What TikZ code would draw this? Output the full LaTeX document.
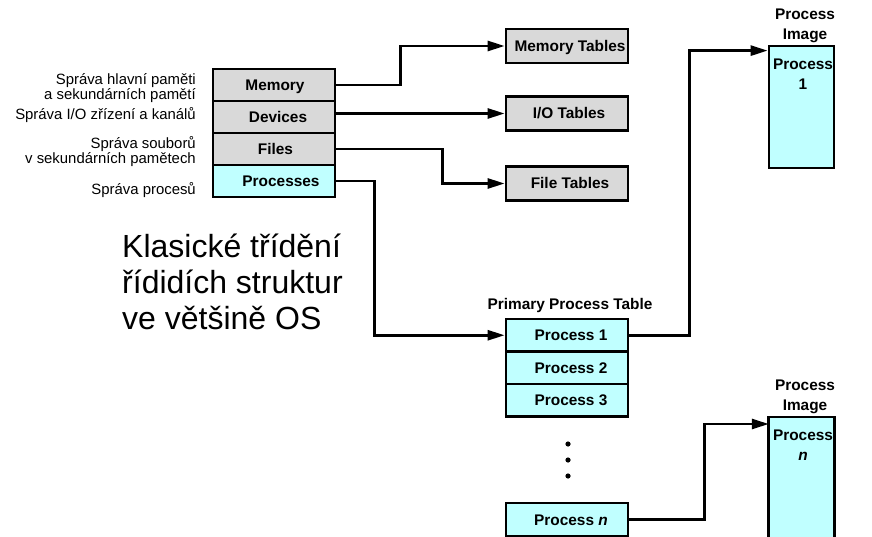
\documentclass[tikz,border=0pt]{standalone}
\usepackage{fontspec}
\setmainfont{Liberation Sans}
\usetikzlibrary{arrows.meta,calc}
\definecolor{tblgray}{HTML}{D9D9D9}
\definecolor{tblcyan}{HTML}{C0FFFF}

\begin{document}
\begin{tikzpicture}[x=1pt,y=-1pt,
  cell/.style={draw=black,line width=2.8pt,minimum width=122pt,minimum height=32pt,
    inner sep=0pt,text height=11pt,text depth=0pt,
    font=\fontsize{15.4}{18}\selectfont\bfseries},
  graycell/.style={cell,fill=tblgray},
  cyancell/.style={cell,fill=tblcyan},
  % nudges a cell's label to the right by half the given amount
  nudge/.style={execute at begin node={\hspace*{#1}}},
  lbl/.style={font=\fontsize{14.9}{15}\selectfont,align=right,anchor=base east,inner sep=0pt},
  hdr/.style={font=\fontsize{15.4}{19.5}\selectfont\bfseries,align=center,inner sep=0pt},
  big/.style={font=\fontsize{32}{35}\selectfont,anchor=base west,inner sep=0pt},
  link/.style={line width=2.8pt,-{Triangle[length=17pt,width=10pt]}},
]
\useasboundingbox (0,0) rectangle (872,537);

% management areas
\node[graycell,nudge=2pt]  (mem)   at (274,85)  {Memory};
\node[graycell,nudge=8pt]  (dev)   at (274,117) {Devices};
\node[graycell,nudge=3pt]  (files) at (274,149) {Files};
\node[cyancell,nudge=14pt] (proc)  at (274,181) {Processes};

% (base anchor of a two-line label sits on its last line)
\node[lbl] (l1) at (196,99.5)  {Správa hlavní paměti\\a sekundárních pamětí};
\node[lbl] (l2) at (196,119.5) {Správa I/O zřízení a kanálů};
\node[lbl] (l3) at (196,164)   {Správa souborů\\v sekundárních pamětech};
\node[lbl] (l4) at (196,194.5) {Správa procesů};

% resource tables
\node[graycell,nudge=6pt,minimum height=34pt] (memt)  at (567,46)    {Memory Tables};
\node[graycell,nudge=4pt,minimum height=34pt] (iot)   at (567,113.5) {I/O Tables};
\node[graycell,nudge=6pt,minimum height=34pt] (filet) at (567,183.5) {File Tables};

% primary process table
\node[hdr] (ptt) at (570,306) {Primary Process Table};
\node[cyancell,nudge=8pt,minimum height=32.5pt] (p1) at (567,335.25) {Process 1};
\node[cyancell,nudge=8pt,minimum height=32.5pt] (p2) at (567,367.75) {Process 2};
\node[cyancell,nudge=8pt,minimum height=32.5pt] (p3) at (567,400.25) {Process 3};
\node[cyancell,nudge=8pt,minimum height=33pt]   (pn) at (567,519.5)  {Process \textit{n}};
\fill (568,444) circle (2.6) (568,460) circle (2.6) (568,476) circle (2.6);

% process images
\node[hdr] (h1) at (805,26) {Process\\Image};
\node[draw=black,fill=tblcyan,line width=2.8pt,minimum width=65pt,minimum height=122pt,
  inner sep=0pt] (img1) at (801.5,107) {};
\node[hdr] (t1) at (803,74) {Process\\1};

\node[hdr] (h2) at (805,397) {Process\\Image};
\node[fill=tblcyan,minimum width=65pt,minimum height=126pt,inner sep=0pt,anchor=north]
  (imgn) at (801.5,417) {};
\draw[line width=2.8pt] (imgn.south west) |- (imgn.north east) -- (imgn.south east);
\node[hdr] (tn) at (803,445) {Process\\\textit{n}};

\coordinate (img1in) at ($(img1.north west)+(0,6)$);
\coordinate (imgnin) at ($(imgn.north west)+(0,7)$);

% title
\node[big] (c1) at (122,258)   {Klasické třídění};
\node[big] (c2) at (122,293.5) {řídidích struktur};
\node[big] (c3) at (122,329)   {ve většině OS};

% connectors
\draw[link] (mem.east) -- ++(64,0) |- (memt.west);
\draw[link] (iot.west -| dev.east) -- (iot.west);
\draw[link] (files.east) -- ++(106,0) |- (filet.west);
\draw[link] (proc.east) -- ++(38,0) |- (p1.west);
\draw[link] (p1.east) -- ++(60,0) |- (img1in);
\draw[link] (pn.east) -- ++(75,0) |- (imgnin);
\end{tikzpicture}
\end{document}
